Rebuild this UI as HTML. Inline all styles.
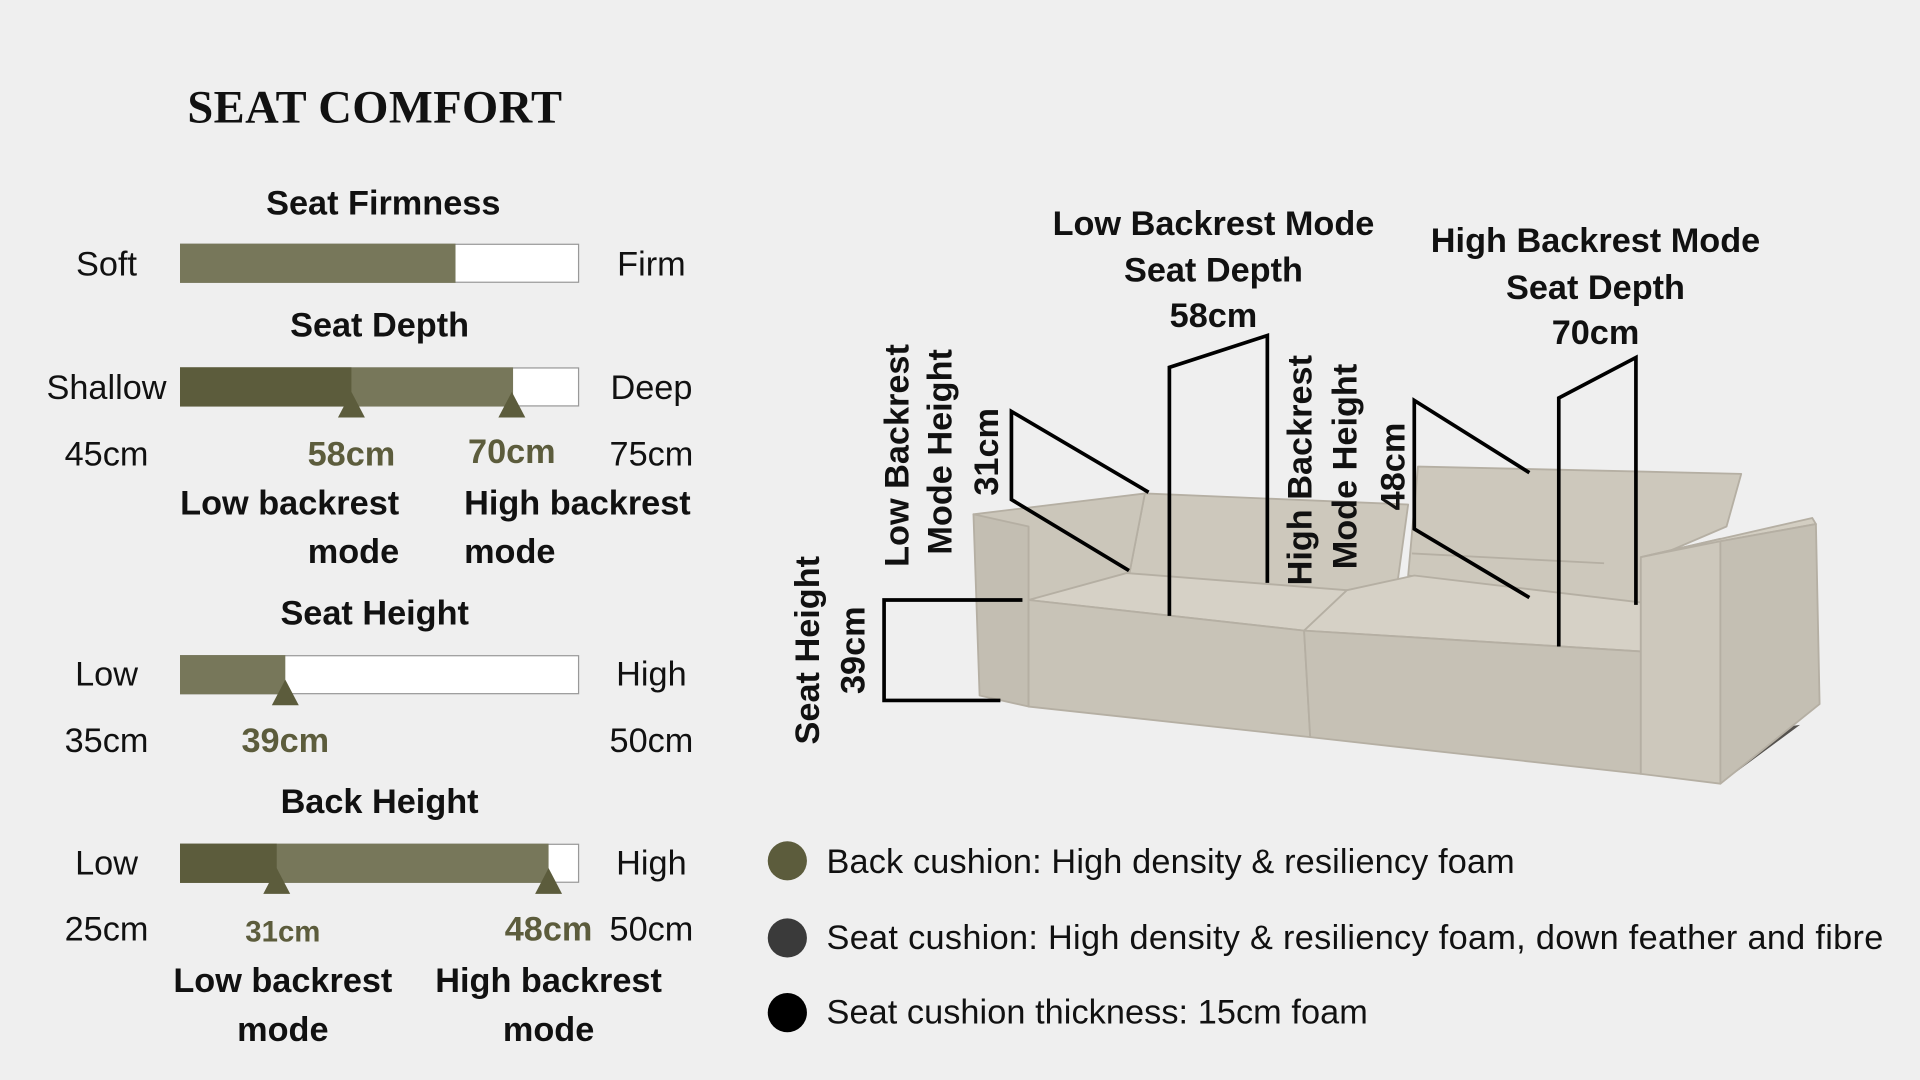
<!DOCTYPE html>
<html><head><meta charset="utf-8"><style>
html,body{margin:0;padding:0;background:#efefef;width:1920px;height:1080px;overflow:hidden}
svg{display:block}
text{font-family:"Liberation Sans",sans-serif;dominant-baseline:central}
.l{font-size:28px;fill:#111}
.b{font-size:28px;font-weight:bold;fill:#111}
.o{font-size:28px;font-weight:bold;fill:#5c5c3c}
.g{font-size:28px;fill:#111}
</style></head><body>
<svg width="1920" height="1080" viewBox="0 0 1568 882" xmlns="http://www.w3.org/2000/svg">
<rect width="1568" height="882" fill="#efefef"/>
<text x="306" y="88" text-anchor="middle" style="font-family:'Liberation Serif',serif;font-weight:bold;font-size:38px;fill:#111" textLength="306">SEAT COMFORT</text>

<text class="b" x="313" y="166" text-anchor="middle">Seat Firmness</text>
<rect x="147.5" y="199.5" width="325" height="31" fill="#fff" stroke="#999"/>
<rect x="147" y="199" width="225" height="32" fill="#77775a"/>
<text class="l" x="87" y="216" text-anchor="middle">Soft</text>
<text class="l" x="532" y="216" text-anchor="middle">Firm</text>

<text class="b" x="310" y="266" text-anchor="middle">Seat Depth</text>
<rect x="147.5" y="300.5" width="325" height="31" fill="#fff" stroke="#999"/>
<rect x="147" y="300" width="272" height="32" fill="#77775a"/>
<rect x="147" y="300" width="140" height="32" fill="#5c5c3c"/>
<polygon points="287,320 276,341 298,341" fill="#5c5c3c"/>
<polygon points="418,320 407,341 429,341" fill="#5c5c3c"/>
<text class="l" x="87" y="317" text-anchor="middle">Shallow</text>
<text class="l" x="532" y="317" text-anchor="middle">Deep</text>
<text class="l" x="87" y="371" text-anchor="middle">45cm</text>
<text class="o" x="287" y="371" text-anchor="middle">58cm</text>
<text class="o" x="418" y="369" text-anchor="middle">70cm</text>
<text class="l" x="532" y="371" text-anchor="middle">75cm</text>
<text class="b" x="326" y="411" text-anchor="end">Low backrest</text>
<text class="b" x="326" y="451" text-anchor="end">mode</text>
<text class="b" x="379" y="411">High backrest</text>
<text class="b" x="379" y="451">mode</text>

<text class="b" x="306" y="501" text-anchor="middle">Seat Height</text>
<rect x="147.5" y="535.5" width="325" height="31" fill="#fff" stroke="#999"/>
<rect x="147" y="535" width="86" height="32" fill="#77775a"/>
<polygon points="233,555 222,576 244,576" fill="#5c5c3c"/>
<text class="l" x="87" y="551" text-anchor="middle">Low</text>
<text class="l" x="532" y="551" text-anchor="middle">High</text>
<text class="l" x="87" y="605" text-anchor="middle">35cm</text>
<text class="o" x="233" y="605" text-anchor="middle">39cm</text>
<text class="l" x="532" y="605" text-anchor="middle">50cm</text>

<text class="b" x="310" y="655" text-anchor="middle">Back Height</text>
<rect x="147.5" y="689.5" width="325" height="31" fill="#fff" stroke="#999"/>
<rect x="147" y="689" width="301" height="32" fill="#77775a"/>
<rect x="147" y="689" width="79" height="32" fill="#5c5c3c"/>
<polygon points="226,709 215,730 237,730" fill="#5c5c3c"/>
<polygon points="448,709 437,730 459,730" fill="#5c5c3c"/>
<text class="l" x="87" y="705" text-anchor="middle">Low</text>
<text class="l" x="532" y="705" text-anchor="middle">High</text>
<text class="l" x="87" y="759" text-anchor="middle">25cm</text>
<text class="o" x="231" y="761" text-anchor="middle" style="font-size:24px">31cm</text>
<text class="o" x="448" y="759" text-anchor="middle">48cm</text>
<text class="l" x="532" y="759" text-anchor="middle">50cm</text>
<text class="b" x="231" y="801" text-anchor="middle">Low backrest</text>
<text class="b" x="231" y="841" text-anchor="middle">mode</text>
<text class="b" x="448" y="801" text-anchor="middle">High backrest</text>
<text class="b" x="448" y="841" text-anchor="middle">mode</text>

<circle cx="643" cy="703" r="16" fill="#5c5c3c"/>
<circle cx="643" cy="766" r="16" fill="#3a3a3a"/>
<circle cx="643" cy="827" r="16" fill="#000"/>
<text class="g" x="675" y="704" textLength="562">Back cushion: High density &amp; resiliency foam</text>
<text class="g" x="675" y="766" textLength="863">Seat cushion: High density &amp; resiliency foam, down feather and fibre</text>
<text class="g" x="675" y="827" textLength="442">Seat cushion thickness: 15cm foam</text>

<g stroke="#b5afa3" stroke-width="1.5" stroke-linejoin="round">
<polygon points="840,575 1070,602 1340,632 1405,640 1470,592 1340,610 840,565" fill="#55524e" stroke="none"/>
<polygon points="922,470 935,403 1150,412 1140,485" fill="#cdc8bc"/>
<polygon points="1150,470 1158,381 1422,387 1410,430 1340,460 1340,495" fill="#cdc8bc"/>
<line x1="1153" y1="452" x2="1310" y2="460"/>
<polygon points="795,420 935,403 922,470 840,490" fill="#cbc6ba"/>
<polygon points="795,420 840,430 840,577 800,568" fill="#c3beb2"/>
<polygon points="840,490 920,468 1100,482 1065,515" fill="#d6d1c6"/>
<polygon points="1065,515 1100,482 1155,470 1340,492 1340,532" fill="#d6d1c6"/>
<polygon points="840,490 1065,515 1070,602 840,577" fill="#c8c3b7"/>
<polygon points="1065,515 1340,532 1340,632 1070,602" fill="#c6c1b5"/>
<polygon points="1340,455 1405,440 1405,640 1340,632" fill="#cdc8bc"/>
<polygon points="1340,455 1480,423 1483,428 1405,442" fill="#d3cec2"/>
<polygon points="1405,442 1483,428 1486,575 1405,640" fill="#c4bfb3"/>
</g>

<g fill="none" stroke="#000" stroke-width="3" stroke-linejoin="miter">
<polyline points="835,490 722,490 722,572 817,572"/>
<polyline points="938,402 826,336 826,408 922,466"/>
<polyline points="955,503 955,300 1035,274 1035,476"/>
<polyline points="1249,386 1155,327 1155,432 1249,488"/>
<polyline points="1273,528 1273,325 1336,292 1336,494"/>
</g>

<text class="b" x="991" y="183" text-anchor="middle">Low Backrest Mode</text>
<text class="b" x="991" y="221" text-anchor="middle">Seat Depth</text>
<text class="b" x="991" y="258" text-anchor="middle">58cm</text>
<text class="b" x="1303" y="197" text-anchor="middle">High Backrest Mode</text>
<text class="b" x="1303" y="235" text-anchor="middle">Seat Depth</text>
<text class="b" x="1303" y="272" text-anchor="middle">70cm</text>

<text class="b" transform="translate(660,531) rotate(-90)" text-anchor="middle">Seat Height</text>
<text class="b" transform="translate(697,531) rotate(-90)" text-anchor="middle">39cm</text>
<text class="b" transform="translate(733,372) rotate(-90)" text-anchor="middle">Low Backrest</text>
<text class="b" transform="translate(768,369) rotate(-90)" text-anchor="middle">Mode Height</text>
<text class="b" transform="translate(806,369) rotate(-90)" text-anchor="middle">31cm</text>
<text class="b" transform="translate(1062,384) rotate(-90)" text-anchor="middle">High Backrest</text>
<text class="b" transform="translate(1099,381) rotate(-90)" text-anchor="middle">Mode Height</text>
<text class="b" transform="translate(1138,381) rotate(-90)" text-anchor="middle">48cm</text>
</svg>
</body></html>
